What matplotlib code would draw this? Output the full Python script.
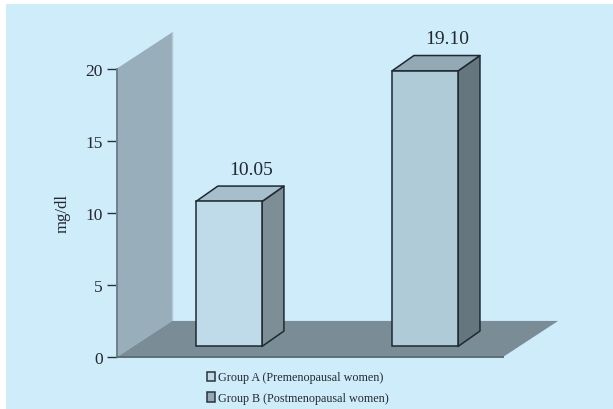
import matplotlib
matplotlib.use("Agg")
import matplotlib.pyplot as plt
from matplotlib.patches import Polygon, Patch, Rectangle

plt.rcParams['font.family'] = ['Liberation Serif', 'DejaVu Serif']

groups = ["Group A (Premenopausal women)", "Group B (Postmenopausal women)"]
values = [10.05, 19.10]
value_labels = ["10.05", "19.10"]
yticks = [0, 5, 10, 15, 20]

bg = '#cfecfb'
ink = '#23292d'
front_colors = ['#bfdae8', '#afcbd8']
side_colors = ['#7d8e97', '#65767e']
top_colors = ['#a7bfcc', '#93a9b5']
legend_colors = ['#bfdae8', '#93a9b5']

# fake 3d: depth of the bars and of the wall/floor, in data units
bar_width = 0.337
bar_dx, bar_dy = 0.112, 1.07
wall_dx, wall_dy = 0.281, 2.5
bar_base = 0.73
x_left, x_right = -0.571, 1.398

fig = plt.figure(figsize=(6.13, 4.10), dpi=100, facecolor='white')
# panel leaves a thin white margin on the left and top
fig.add_artist(Rectangle((6/613, 0), 607/613, 405/410, transform=fig.transFigure,
                         facecolor=bg, edgecolor='none', zorder=-1))

ax = fig.add_axes([117/613, 1 - 358/410, 386/613, 288.5/410])
ax.set_facecolor('none')
ax.set_xlim(x_left, x_right)
ax.set_ylim(0, 20)


def face(points, color, edge='none', lw=0, z=1):
    ax.add_patch(Polygon(points, closed=True, facecolor=color, edgecolor=edge,
                         linewidth=lw, zorder=z, clip_on=False, joinstyle='round'))


# back wall and floor
face([(x_left, 0), (x_left, 20), (x_left + wall_dx, 20 + wall_dy), (x_left + wall_dx, wall_dy)], '#98afbb')
ax.plot([x_left + wall_dx] * 2, [wall_dy, 20 + wall_dy], color='#b0c8d4', lw=1, zorder=1, clip_on=False)
face([(x_left, 0), (x_right, 0), (x_right + wall_dx, wall_dy), (x_left + wall_dx, wall_dy)], '#7a8c95', z=2)

# bars
for i, v in enumerate(values):
    x0, x1 = i - bar_width / 2, i + bar_width / 2
    top = bar_base + v
    ax.bar(i, v, width=bar_width, bottom=bar_base, color=front_colors[i],
           edgecolor='#1d2a31', linewidth=1.1, zorder=4)
    face([(x1, bar_base), (x1 + bar_dx, bar_base + bar_dy), (x1 + bar_dx, top + bar_dy), (x1, top)],
         side_colors[i], '#1d2a31', 1.1, 3)
    face([(x0, top), (x0 + bar_dx, top + bar_dy), (x1 + bar_dx, top + bar_dy), (x1, top)],
         top_colors[i], '#1d2a31', 1.1, 3)
    ax.annotate(value_labels[i], xy=(i + bar_dx, top + bar_dy), xytext=(0, 6),
                textcoords='offset points', ha='center', va='bottom',
                fontsize=14, color=ink, annotation_clip=False)

for s in ['top', 'right']:
    ax.spines[s].set_visible(False)
ax.spines['left'].set_color('#6f8089')
ax.spines['left'].set_linewidth(1.4)
ax.spines['bottom'].set_color('#5f6f78')
ax.spines['bottom'].set_linewidth(1.4)
ax.spines['left'].set_zorder(5)
ax.spines['bottom'].set_zorder(5)

ax.set_xticks([])
ax.set_yticks(yticks)
ax.tick_params(axis='y', length=7.2, width=1, color='#2b3338', labelsize=12.5,
               labelcolor=ink, pad=3)
ax.set_ylabel("mg/dl", fontsize=12, color=ink, labelpad=11)

handles = [Patch(facecolor=c, edgecolor='#2b3338', linewidth=1.1) for c in legend_colors]
ax.legend(handles, groups, loc='upper left', bbox_to_anchor=(90/386, -0.05),
          frameon=False, fontsize=8.7, labelcolor=ink, handlelength=0.7, handleheight=0.8,
          handletextpad=0.2, labelspacing=0.72, borderpad=0, borderaxespad=0)

fig.savefig("out.png", dpi=100, facecolor='white')
